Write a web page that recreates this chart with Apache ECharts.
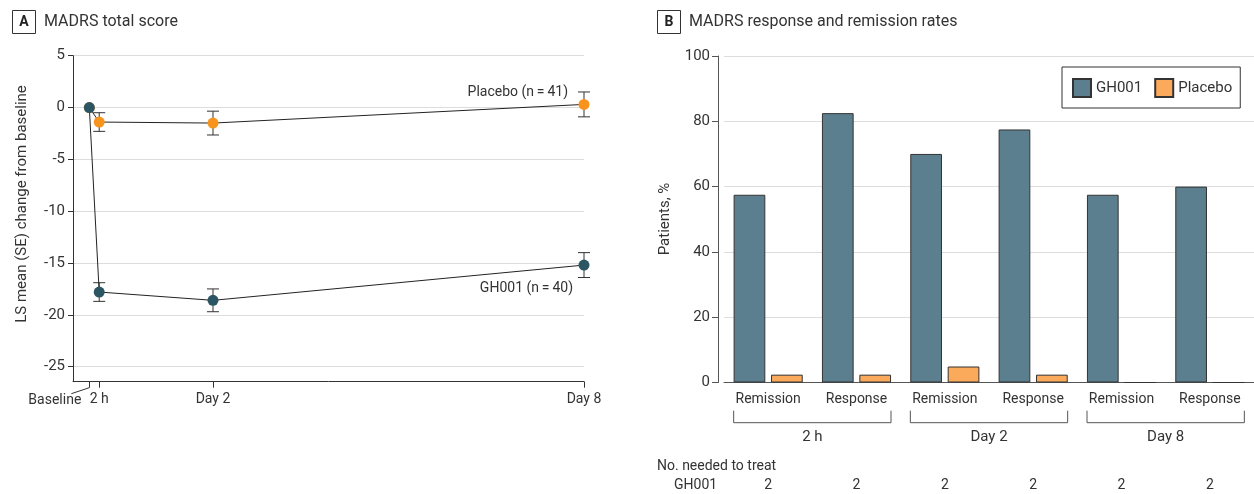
<!DOCTYPE html>
<html>
<head>
<meta charset="utf-8">
<script src="https://cdn.jsdelivr.net/npm/echarts@6/dist/echarts.min.js"></script>
<style>
  html, body { margin: 0; padding: 0; background: #fff; }
  #container { width: 1254px; height: 494px; }
</style>
</head>
<body>
<div id="container"></div>
<script>
// panel A: MADRS total score
const timeLabels = ['Baseline', '2 h', 'Day 2', 'Day 8'];
const timeX = [0, 0.16, 2, 8];          // days; 2 h drawn just off baseline as in the figure
const gh001Mean = [0, -17.8, -18.6, -15.2];
const gh001SE = [0, 0.9, 1.1, 1.2];
const placeboMean = [0, -1.4, -1.5, 0.3];
const placeboSE = [0, 0.9, 1.15, 1.2];
const scoreTicks = [5, 0, -5, -10, -15, -20, -25];

// panel B: response and remission rates
const rateCategories = ['Remission', 'Response', 'Remission', 'Response', 'Remission', 'Response'];
const rateGroups = ['2 h', 'Day 2', 'Day 8'];
const gh001Rates = [57.5, 82.5, 70.0, 77.5, 57.5, 60.0];
const placeboRates = [2.4, 2.4, 4.9, 2.4, 0, 0];
const nntGH001 = [2, 2, 2, 2, 2, 2];

const FONT = 'Roboto';
const TXT = '#333';
const GH_DOT = '#2b5563';
const PL_DOT = '#f7941d';
const GH_BAR = '#5b7f8e';
const PL_BAR = '#fbaa5b';

let dom = document.getElementById('container');
let myChart = echarts.init(dom);

function errorBars(mean, se) {
    let d = [];
    for (let i = 1; i < timeX.length; i++) {
        d.push([timeX[i], mean[i] - se[i], mean[i] + se[i]]);
    }
    return {
        type: 'custom',
        xAxisIndex: 0,
        yAxisIndex: 0,
        z: 1,
        silent: true,
        encode: { x: 0, y: [1, 2] },
        data: d,
        renderItem: function (params, api) {
            let lo = api.coord([api.value(0), api.value(1)]);
            let hi = api.coord([api.value(0), api.value(2)]);
            let w = 6;
            let st = { stroke: '#333', lineWidth: 1 };
            return {
                type: 'group',
                children: [
                    { type: 'line', shape: { x1: lo[0], y1: lo[1], x2: hi[0], y2: hi[1] }, style: st },
                    { type: 'line', shape: { x1: lo[0] - w, y1: lo[1], x2: lo[0] + w, y2: lo[1] }, style: st },
                    { type: 'line', shape: { x1: hi[0] - w, y1: hi[1], x2: hi[0] + w, y2: hi[1] }, style: st }
                ]
            };
        }
    };
}

let option = {
    animation: false,
    textStyle: { fontFamily: FONT, color: TXT },
    grid: [
        { left: 73, top: 55.7, width: 511, height: 326 },
        { left: 724, top: 56, width: 544.2, height: 326.5 }
    ],
    legend: {
        data: ['GH001', 'Placebo'],
        left: 1062,
        top: 67,
        itemWidth: 18,
        itemHeight: 18,
        itemGap: 12,
        padding: [11, 8, 10, 10],
        borderColor: '#333',
        borderWidth: 1,
        icon: 'rect',
        textStyle: { fontFamily: FONT, fontSize: 15, color: TXT }
    },
    xAxis: [
        {
            type: 'value',
            gridIndex: 0,
            min: -0.264,
            max: 8,
            axisLine: { show: true, onZero: false, lineStyle: { color: '#333' } },
            axisTick: { show: true, customValues: timeX, length: 6, lineStyle: { color: '#333' } },
            axisLabel: {
                customValues: timeX.slice(1),
                formatter: function (v) { return timeLabels[timeX.indexOf(v)]; },
                fontSize: 14, color: TXT, margin: 11
            },
            splitLine: { show: false }
        },
        {
            type: 'category',
            gridIndex: 1,
            data: rateCategories,
            axisLine: { show: true, onZero: false, lineStyle: { color: '#555' } },
            axisTick: { show: false },
            axisLabel: { fontSize: 14, color: TXT, margin: 10, interval: 0 }
        }
    ],
    yAxis: [
        {
            type: 'value',
            gridIndex: 0,
            min: -26.45,
            max: 5,
            axisLine: { show: true, onZero: false, lineStyle: { color: '#333' } },
            axisTick: { show: true, customValues: scoreTicks, length: 5, lineStyle: { color: '#333' } },
            axisLabel: { customValues: scoreTicks, fontSize: 15, color: TXT, margin: 8 },
            splitLine: { show: true, lineStyle: { color: '#ddd' } }
        },
        {
            type: 'value',
            gridIndex: 1,
            min: 0,
            max: 100,
            interval: 20,
            offset: 6,
            axisLine: { show: true, onZero: false, lineStyle: { color: '#555' } },
            axisTick: { show: true, length: 6, lineStyle: { color: '#555' } },
            axisLabel: { fontSize: 15, color: TXT, margin: 8 },
            splitLine: { show: true, lineStyle: { color: '#ddd' } }
        }
    ],
    series: [
        errorBars(placeboMean, placeboSE),
        errorBars(gh001Mean, gh001SE),
        {
            name: 'Placebo line',
            type: 'line',
            xAxisIndex: 0,
            yAxisIndex: 0,
            data: timeX.map((x, i) => [x, placeboMean[i]]),
            symbol: 'circle',
            symbolSize: 11,
            lineStyle: { color: '#222', width: 1 },
            itemStyle: { color: PL_DOT },
            z: 3,
            silent: true
        },
        {
            name: 'GH001 line',
            type: 'line',
            xAxisIndex: 0,
            yAxisIndex: 0,
            data: timeX.map((x, i) => [x, gh001Mean[i]]),
            symbol: 'circle',
            symbolSize: 11,
            lineStyle: { color: '#222', width: 1 },
            itemStyle: { color: GH_DOT },
            z: 4,
            silent: true
        },
        {
            name: 'GH001',
            type: 'bar',
            xAxisIndex: 1,
            yAxisIndex: 1,
            data: gh001Rates,
            barWidth: 31.7,
            barGap: '18%',
            itemStyle: { color: GH_BAR, borderColor: '#333', borderWidth: 1 }
        },
        {
            name: 'Placebo',
            type: 'bar',
            xAxisIndex: 1,
            yAxisIndex: 1,
            data: placeboRates,
            barWidth: 31.7,
            itemStyle: { color: PL_BAR, borderColor: '#333', borderWidth: 1 }
        }
    ]
};
myChart.setOption(option);

// annotations placed from the axes
function txt(x, y, s, align, size, extra) {
    return Object.assign({
        type: 'text', x: x, y: y,
        style: { text: s, fontFamily: FONT, fontSize: size || 14, fill: TXT, align: align || 'left', verticalAlign: 'middle' }
    }, extra || {});
}
function ln(x1, y1, x2, y2, color) {
    return { type: 'line', shape: { x1: x1, y1: y1, x2: x2, y2: y2 }, style: { stroke: color || '#333', lineWidth: 1 } };
}

let g = [];
// panel titles
g.push({ type: 'rect', shape: { x: 12.5, y: 10.5, width: 23, height: 23 }, style: { fill: '#fff', stroke: '#333', lineWidth: 1 } });
g.push(txt(24, 22.5, 'A', 'center', 14, { style: { text: 'A', fontFamily: FONT, fontSize: 14, fontWeight: 'bold', fill: '#222', align: 'center', verticalAlign: 'middle' } }));
g.push(txt(44, 22, 'MADRS total score', 'left', 16));
g.push({ type: 'rect', shape: { x: 657.5, y: 10.5, width: 23, height: 23 }, style: { fill: '#fff', stroke: '#333', lineWidth: 1 } });
g.push(txt(669, 22.5, 'B', 'center', 14, { style: { text: 'B', fontFamily: FONT, fontSize: 14, fontWeight: 'bold', fill: '#222', align: 'center', verticalAlign: 'middle' } }));
g.push(txt(689, 22, 'MADRS response and remission rates', 'left', 16));

// axis names
g.push(txt(22, 204, 'LS mean (SE) change from baseline', 'center', 15, { rotation: Math.PI / 2 }));
g.push(txt(665, 219, 'Patients, %', 'center', 15, { rotation: Math.PI / 2 }));

// baseline label with leader
let pBase = myChart.convertToPixel({ gridIndex: 0 }, [timeX[0], -26.45]);
g.push(ln(pBase[0], pBase[1] + 6, pBase[0] - 18, pBase[1] + 12));
g.push(txt(pBase[0] - 8, pBase[1] + 18.5, timeLabels[0], 'right', 14));

// series labels
let last = timeX.length - 1;
let pPl = myChart.convertToPixel({ gridIndex: 0 }, [timeX[last], placeboMean[last]]);
g.push(txt(pPl[0] - 16, pPl[1] - 12, 'Placebo (n\u2009=\u200941)', 'right', 14));
let pGh = myChart.convertToPixel({ gridIndex: 0 }, [timeX[last], gh001Mean[last]]);
g.push(txt(pGh[0] - 11, pGh[1] + 23, 'GH001 (n\u2009=\u200940)', 'right', 14));

// group brackets and NNT row
let half = 34.5;
let yTop = 410.7, yBot = 422.7;
for (let k = 0; k < rateGroups.length; k++) {
    let a = myChart.convertToPixel({ xAxisIndex: 1 }, 2 * k) - half;
    let b = myChart.convertToPixel({ xAxisIndex: 1 }, 2 * k + 1) + half;
    g.push({ type: 'polyline', shape: { points: [[a, yTop], [a, yBot], [b, yBot], [b, yTop]] }, style: { stroke: '#555', lineWidth: 1, fill: null } });
    g.push(txt((a + b) / 2, 437.5, rateGroups[k], 'center', 15));
}
g.push(txt(657, 466, 'No. needed to treat', 'left', 14));
g.push(txt(674, 485.5, 'GH001', 'left', 14));
for (let i = 0; i < nntGH001.length; i++) {
    let x = myChart.convertToPixel({ xAxisIndex: 1 }, i);
    g.push(txt(x, 485.5, String(nntGH001[i]), 'center', 14));
}

myChart.setOption({ graphic: { elements: g } });
</script>
</body>
</html>
